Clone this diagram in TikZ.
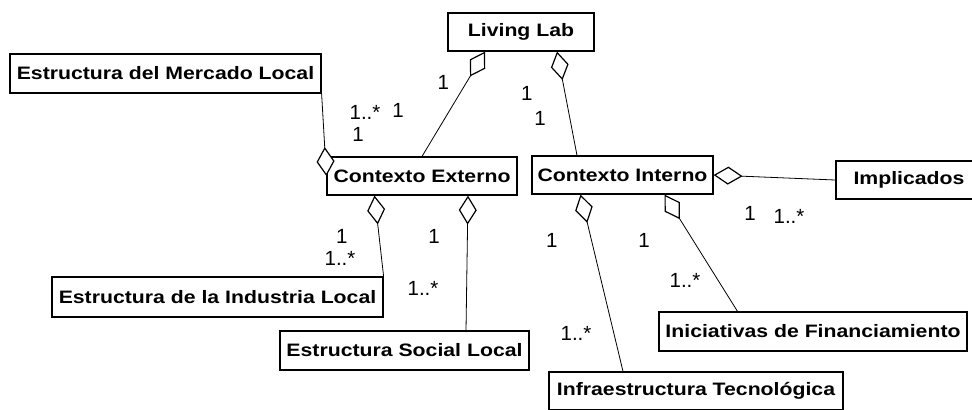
\documentclass[tikz,border=0pt]{standalone}
\usepackage{fontspec}
\setmainfont{Liberation Sans}
\newfontfamily\boxfont[FakeStretch=1.18]{Liberation Sans}
\usetikzlibrary{arrows.meta}
\tikzstyle{block} = [rectangle, draw, line width=0.6pt, inner sep=0pt,
                 font=\boxfont\bfseries\fontsize{9}{10}\selectfont]
\tikzstyle{mult} = [inner sep=0pt, font=\fontsize{10.25}{12}\selectfont]
\tikzstyle{aggr} = [draw, line width=0.4pt,
                 -{Diamond[open, fill=white, length=14.5pt, width=9pt, line width=0.6pt]}]

\begin{document}
\begin{tikzpicture}[x=5pt,y=-5pt]

\useasboundingbox (0,0) rectangle (97.2,40.9);

\node [block, minimum width=73pt, minimum height=19pt] at (52.1,3.2) (ll) {Living Lab};
\node [block, minimum width=155.5pt, minimum height=19.5pt] at (16.55,7.35) (merc) {Estructura del Mercado Local};
\node [block, minimum width=95pt, minimum height=19pt] at (42.2,17.6) (ext) {Contexto Externo};
\node [block, minimum width=90.5pt, minimum height=19pt] at (62.25,17.5) (int) {Contexto Interno};
\node [block, minimum width=73pt, minimum height=19pt] at (90.9,18.0) (impl) {Implicados};
\node [block, minimum width=165.5pt, minimum height=20pt] at (21.75,29.7) (ind) {Estructura de la Industria Local};
\node [block, minimum width=124.5pt, minimum height=19.5pt] at (40.45,35.05) (soc) {Estructura Social Local};
\node [block, minimum width=154pt, minimum height=19.5pt] at (81.3,33.15) (inic) {Iniciativas de Financiamiento};
\node [block, minimum width=147pt, minimum height=19pt] at (69.6,39.1) (infra) {Infraestructura Tecnol\'ogica};

% aggregations, diamond on the whole
\path [aggr] (ext.north) -- ([xshift=-18pt]ll.south);
\path [aggr] ([xshift=-22.75pt]int.north) -- ([xshift=18pt]ll.south);
\path [aggr] (merc.south east) -- (ext.west);
\path [aggr] (ind.north east) -- ([xshift=-23.75pt]ext.south);
\path [aggr] ([xshift=30.75pt]soc.north) -- ([xshift=23pt]ext.south);
\path [aggr] ([xshift=-36.5pt]infra.north) -- ([xshift=-21pt]int.south);
\path [aggr] ([xshift=-37.75pt]inic.north) -- ([xshift=21pt]int.south);
\path [aggr] (impl.west) -- (int.east);

% multiplicities
\foreach \x/\y/\m [count=\i] in {44.33/8.27/1, 36.5/11.2/1..*, 39.8/11.07/1, 35.8/13.4/1,
        52.67/9.33/1, 54.0/11.8/1, 34.17/23.6/1, 34.0/25.8/1..*,
        43.4/23.6/1, 42.3/28.8/1..*, 55.17/24.0/1, 57.6/33.3/1..*,
        64.4/24.0/1, 68.5/28.0/1..*, 75.0/21.3/1, 78.9/21.6/1..*}
	\node [mult] at (\x,\y) (m\i) {\m};

\end{tikzpicture}
\end{document}
